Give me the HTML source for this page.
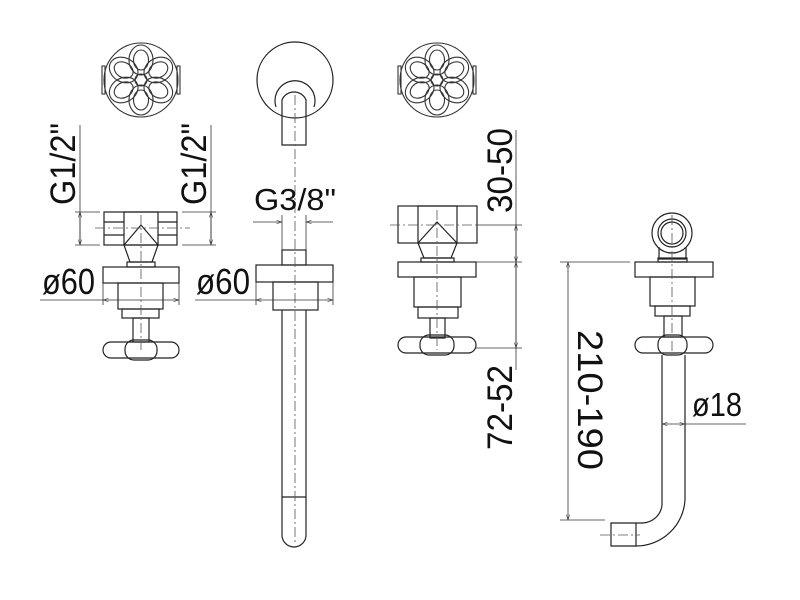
<!DOCTYPE html>
<html><head><meta charset="utf-8"><style>
html,body{margin:0;padding:0;background:#fff;width:800px;height:600px;overflow:hidden}
svg{display:block}
text{font-family:"Liberation Sans Narrow","Liberation Sans",sans-serif;fill:#111}
</style></head><body>
<svg width="800" height="600" viewBox="0 0 800 600" xmlns="http://www.w3.org/2000/svg">
<defs>
<marker id="a" viewBox="0 0 10 10" refX="10" refY="5" markerWidth="7" markerHeight="7" orient="auto-start-reverse"><path d="M0,2 L10,5 L0,8" fill="none" stroke="#333" stroke-width="1"/></marker>
<g id="knob" fill="none" stroke="#333" stroke-width="1.1">
<circle r="37"/>
<rect x="-39" y="-14" width="3" height="28"/><rect x="36" y="-14" width="3" height="28"/>
<circle r="6"/>
<g id="pet"><ellipse cx="0" cy="-20" rx="12" ry="15"/><ellipse cx="0" cy="-20" rx="7.5" ry="10"/></g>
<use href="#pet" transform="rotate(60)"/><use href="#pet" transform="rotate(120)"/><use href="#pet" transform="rotate(180)"/><use href="#pet" transform="rotate(240)"/><use href="#pet" transform="rotate(300)"/>
</g>
</defs>
<g fill="none" stroke="#222" stroke-width="1.2">
<use href="#knob" x="141" y="80"/>
<use href="#knob" x="437" y="80"/>
<!-- left valve -->
<rect x="104" y="212" width="73" height="33"/>
<line x1="104" y1="222" x2="124" y2="222"/><line x1="104" y1="235" x2="124" y2="235"/>
<line x1="158" y1="222" x2="177" y2="222"/><line x1="158" y1="235" x2="177" y2="235"/>
<rect x="124" y="212" width="34" height="33"/>
<path d="M124,245 L141,225 L158,245 L152,262 L130,262 Z"/>
<rect x="127" y="262" width="28" height="5"/>
<rect x="103" y="267" width="76" height="16"/>
<rect x="118" y="283" width="45" height="26"/>
<rect x="122" y="309" width="37" height="9"/>
<rect x="133" y="318" width="16" height="24"/>
<rect x="103" y="342" width="76" height="16" rx="8"/>
<rect x="125" y="340" width="32" height="20" rx="9"/>
<!-- middle spout -->
<circle cx="295" cy="80" r="38"/>
<path d="M282,145 L282,100 A13,13 0 0 1 306,100 L306,145 Z"/>
<path d="M276,107 A20,20 0 1 1 314,107"/>
<rect x="282" y="250" width="24" height="15"/>
<rect x="256" y="265" width="77" height="17"/>
<rect x="273" y="282" width="45" height="28"/>
<path d="M282,310 L282,535 A12,12 0 0 0 306,535 L306,310"/>
<line x1="282" y1="497" x2="306" y2="497"/>
<!-- third valve -->
<rect x="398" y="206" width="79" height="37"/>
<rect x="418" y="206" width="39" height="37"/>
<path d="M418,243 L437,222 L457,243 L451,258 L424,258 Z"/>
<rect x="421" y="258" width="33" height="4"/>
<rect x="398" y="262" width="78" height="15"/>
<rect x="414" y="277" width="47" height="30"/>
<rect x="418" y="307" width="40" height="11"/>
<rect x="430" y="318" width="15" height="20"/>
<rect x="398" y="337" width="78" height="16" rx="8"/>
<rect x="420" y="335" width="34" height="20" rx="9"/>
<!-- fourth -->
<circle cx="672" cy="233" r="20"/>
<circle cx="672" cy="233" r="14"/>
<circle cx="672" cy="233" r="11"/>
<path d="M659,247 L659,259 L686,259 L686,247"/>
<rect x="658" y="258" width="29" height="4"/>
<rect x="635" y="262" width="78" height="15"/>
<rect x="650" y="277" width="45" height="29"/>
<rect x="655" y="306" width="35" height="10"/>
<rect x="664" y="316" width="18" height="21"/>
<rect x="635" y="337" width="78" height="16" rx="8"/>
<rect x="658" y="335" width="29" height="20" rx="9"/>
<path d="M662,355 L662,505 A20,20 0 0 1 642,523 L611,523 L611,546 L636,546 A49,49 0 0 0 685,500 L685,355"/>
<line x1="636" y1="523" x2="636" y2="546"/>
</g>
<g stroke="#555" stroke-width="0.8" stroke-dasharray="10,3,2,3" fill="none">
<line x1="141" y1="215" x2="141" y2="350"/>
<line x1="95" y1="228" x2="190" y2="228"/>
<line x1="295" y1="95" x2="295" y2="545"/>
<line x1="437" y1="210" x2="437" y2="350"/>
<line x1="390" y1="225" x2="480" y2="225"/>
<line x1="672" y1="215" x2="672" y2="355"/>
<line x1="600" y1="535" x2="640" y2="535"/>
</g>
<g stroke="#333" stroke-width="0.8" fill="none">
<line x1="80" y1="125" x2="80" y2="245"/>
<line x1="75" y1="212" x2="100" y2="212"/><line x1="75" y1="245" x2="100" y2="245"/>
<line x1="80" y1="245" x2="80" y2="212" marker-end="url(#a)" marker-start="url(#a)"/>
<line x1="211" y1="125" x2="211" y2="245"/>
<line x1="182" y1="212" x2="216" y2="212"/><line x1="182" y1="245" x2="216" y2="245"/>
<line x1="211" y1="245" x2="211" y2="212" marker-end="url(#a)" marker-start="url(#a)"/>
<line x1="40" y1="300" x2="103" y2="300"/>
<line x1="103" y1="300" x2="179" y2="300" marker-end="url(#a)" marker-start="url(#a)"/>
<line x1="103" y1="283" x2="103" y2="305"/><line x1="179" y1="283" x2="179" y2="305"/>
<line x1="195" y1="300" x2="256" y2="300"/>
<line x1="256" y1="300" x2="333" y2="300" marker-end="url(#a)" marker-start="url(#a)"/>
<line x1="256" y1="282" x2="256" y2="305"/><line x1="333" y1="282" x2="333" y2="305"/>
<line x1="253" y1="222" x2="282" y2="222" marker-end="url(#a)"/>
<line x1="333" y1="222" x2="306" y2="222" marker-end="url(#a)"/>
<line x1="282" y1="215" x2="282" y2="250"/><line x1="306" y1="215" x2="306" y2="250"/>
<line x1="516" y1="130" x2="516" y2="370"/>
<line x1="516" y1="225" x2="516" y2="262" marker-end="url(#a)" marker-start="url(#a)"/>
<line x1="516" y1="262" x2="516" y2="348" marker-end="url(#a)" marker-start="url(#a)"/>
<line x1="477" y1="225" x2="522" y2="225"/>
<line x1="476" y1="262" x2="522" y2="262"/>
<line x1="476" y1="348" x2="522" y2="348"/>
<line x1="568" y1="262" x2="568" y2="520" marker-end="url(#a)" marker-start="url(#a)"/>
<line x1="560" y1="262" x2="630" y2="262"/>
<line x1="560" y1="520" x2="605" y2="520"/>
<line x1="662" y1="424" x2="685" y2="424" marker-end="url(#a)" marker-start="url(#a)"/>
<line x1="685" y1="424" x2="746" y2="424"/>
</g>
<text x="42" y="294" font-size="36" textLength="53" lengthAdjust="spacingAndGlyphs">ø60</text>
<text x="196" y="294" font-size="36" textLength="54" lengthAdjust="spacingAndGlyphs">ø60</text>
<text x="254" y="210" font-size="31" textLength="82" lengthAdjust="spacingAndGlyphs">G3/8"</text>
<text x="692" y="416" font-size="33" textLength="50" lengthAdjust="spacingAndGlyphs">ø18</text>
<text transform="translate(75,205) rotate(-90)" font-size="35" textLength="82" lengthAdjust="spacingAndGlyphs">G1/2"</text>
<text transform="translate(206,205) rotate(-90)" font-size="35" textLength="82" lengthAdjust="spacingAndGlyphs">G1/2"</text>
<text transform="translate(512,213) rotate(-90)" font-size="35" textLength="85" lengthAdjust="spacingAndGlyphs">30-50</text>
<text transform="translate(512,450) rotate(-90)" font-size="35" textLength="85" lengthAdjust="spacingAndGlyphs">72-52</text>
<text transform="translate(578,330) rotate(90)" font-size="35" textLength="140" lengthAdjust="spacingAndGlyphs">210-190</text>
</svg>
</body></html>
